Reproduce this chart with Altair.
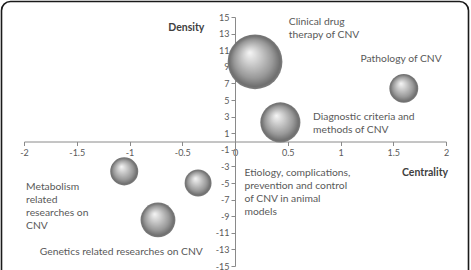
import altair as alt
import pandas as pd

# Strategic diagram of CNV research themes: centrality vs density
themes = [
    "Clinical drug therapy of CNV",
    "Pathology of CNV",
    "Diagnostic criteria and methods of CNV",
    "Metabolism related researches on CNV",
    "Etiology, complications, prevention and control of CNV in animal models",
    "Genetics related researches on CNV",
]
centrality = [0.19, 1.6, 0.43, -1.05, -0.35, -0.73]
density = [9.6, 6.4, 2.3, -3.6, -5.0, -9.45]
bubble_size = [302, 84, 162, 79, 73, 122]

# Theme captions, anchored in data units (top-left of first line)
label_lines = [
    ["Clinical drug", "therapy of CNV"],
    ["Pathology of CNV"],
    ["Diagnostic criteria and", "methods of CNV"],
    ["Metabolism", "related", "researches on", "CNV"],
    ["Etiology, complications,", "prevention and control", "of CNV in animal", "models"],
    ["Genetics related researches on  CNV"],
]
label_x = [0.51, 1.19, 0.74, -1.98, 0.09, -1.85]
label_y = [15.0, 10.6, 3.6, -4.9, -3.15, -12.7]

# Axis names placed next to the crossing axes
axis_names = ["Centrality", "Density"]
axis_name_x = [2.02, -0.29]
axis_name_y = [-3.15, 14.25]

x_ticks = [-2, -1.5, -1, -0.5, 0, 0.5, 1, 1.5, 2]
y_ticks = [-15, -13, -11, -9, -7, -5, -3, -1, 1, 3, 5, 7, 9, 11, 13, 15]

W, H = 422, 249
FONT = "Lato"
AXIS_GREY = "#8a8a8a"
TEXT_GREY = "#595959"

bubbles = pd.DataFrame({
    "theme": themes, "centrality": centrality,
    "density": density, "size": bubble_size,
})
labels = pd.DataFrame({"text": label_lines, "x": label_x, "y": label_y})
names = pd.DataFrame({"text": axis_names, "x": axis_name_x, "y": axis_name_y})

xscale = alt.Scale(domain=[-2, 2], nice=False, zero=False)
yscale = alt.Scale(domain=[-15, 15], nice=False, zero=False)

xaxis = alt.Axis(
    values=x_ticks, tickCount=len(x_ticks), labelExpr="'' + datum.value",
    title=None, grid=False, offset=-H / 2, domainColor=AXIS_GREY,
    tickColor=AXIS_GREY, tickSize=4, labelColor=TEXT_GREY, labelFont=FONT,
    labelFontSize=9, labelPadding=3, labelFlush=False, labelOverlap=False,
)
yaxis = alt.Axis(
    values=y_ticks, tickCount=len(y_ticks), labelExpr="'' + datum.value",
    title=None, grid=False, offset=-W / 2, domainColor=AXIS_GREY,
    tickColor=AXIS_GREY, tickSize=4, labelColor=TEXT_GREY, labelFont=FONT,
    labelFontSize=9, labelPadding=2, labelFlush=False, labelOverlap=False,
)

sphere = {
    "gradient": "radial",
    "x1": 0.4, "y1": 0.33, "r1": 0,
    "x2": 0.5, "y2": 0.5, "r2": 0.5,
    "stops": [
        {"offset": 0.0, "color": "#f6f6f6"},
        {"offset": 0.3, "color": "#cfcfcf"},
        {"offset": 0.7, "color": "#999999"},
        {"offset": 0.93, "color": "#6e6e6e"},
        {"offset": 1.0, "color": "#808080"},
    ],
}

points = alt.Chart(bubbles).mark_circle(fill=sphere, opacity=1).encode(
    x=alt.X("centrality:Q", scale=xscale, axis=xaxis),
    y=alt.Y("density:Q", scale=yscale, axis=yaxis),
    size=alt.Size("size:Q", scale=alt.Scale(domain=[0, 302], range=[0, 3000]),
                  legend=None),
)

captions = alt.Chart(labels).mark_text(
    align="left", baseline="top", font=FONT, fontSize=10.3, lineHeight=13,
    color=TEXT_GREY,
).encode(
    x=alt.X("x:Q", scale=xscale),
    y=alt.Y("y:Q", scale=yscale),
    text="text",
)

titles = alt.Chart(names).mark_text(
    align="right", baseline="top", font=FONT, fontSize=10.5, fontWeight="bold",
    color="#404040",
).encode(
    x=alt.X("x:Q", scale=xscale),
    y=alt.Y("y:Q", scale=yscale),
    text="text",
)

frame = alt.Chart(pd.DataFrame({"k": [0]})).mark_rect(
    fill="transparent", stroke="#1a1a1a", strokeWidth=1.6, cornerRadius=9,
).encode(
    x=alt.value(-22.5), x2=alt.value(W + 22.5),
    y=alt.value(-15.5), y2=alt.value(H + 20),
)

chart = alt.layer(points, captions, titles, frame).properties(
    width=W, height=H,
    autosize=alt.AutoSizeParams(type="none"),
    padding={"left": 24, "top": 17, "right": 25, "bottom": 4},
    background="white",
).configure_view(stroke=None)

chart.save("out.html", embed_options={"renderer": "svg", "actions": False})
